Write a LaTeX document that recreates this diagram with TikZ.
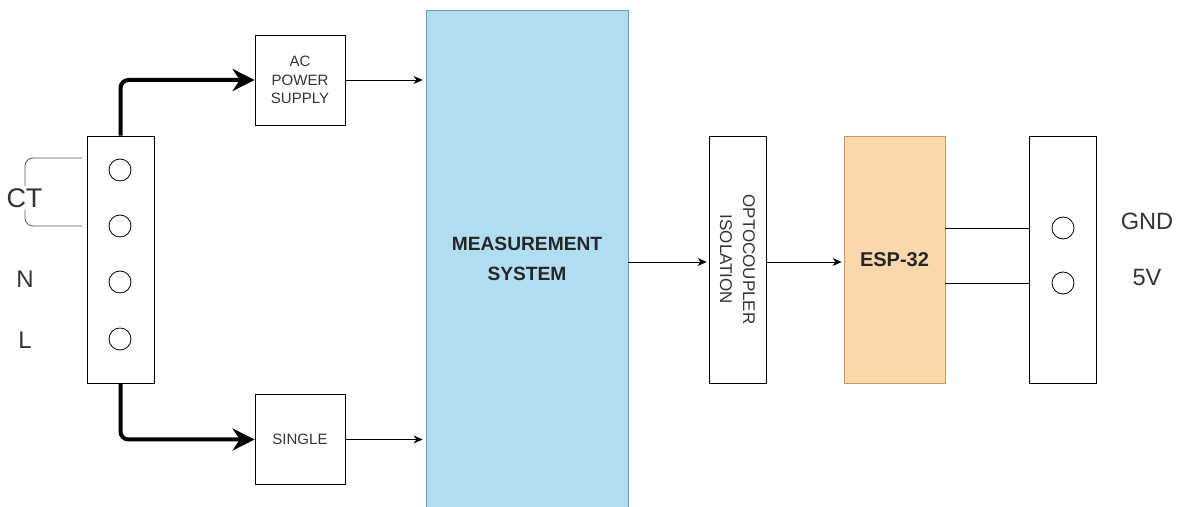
\documentclass[tikz,border=0pt]{standalone}
\usepackage{fontspec}
\setmainfont{Liberation Sans}
\usetikzlibrary{arrows.meta,positioning}

\definecolor{msfill}{HTML}{B1DDF0}
\definecolor{msline}{HTML}{6A9FBC}
\definecolor{espfill}{HTML}{FAD7AC}
\definecolor{espline}{HTML}{CC9A52}
\definecolor{txtgray}{HTML}{333333}

\tikzset{
  block/.style={draw, thin, minimum width=45pt, minimum height=45pt, inner sep=1pt,
    align=center, text=txtgray, font=\fontsize{7.5}{9.2}\selectfont},
  strip/.style={draw, thin, minimum width=33.5pt, minimum height=123.5pt, inner sep=0pt},
  hole/.style={draw, circle, minimum size=11pt, inner sep=0pt},
  sidetext/.style={text=txtgray, inner sep=1pt, font=\fontsize{12}{14}\selectfont},
  thinarrow/.style={thin, -{Stealth[length=4.5pt,width=4pt]}},
  fatarrow/.style={line width=2pt, rounded corners=4pt, -{Stealth[length=11pt,width=11pt]}},
}

\begin{document}
\begin{tikzpicture}[x=0.5pt,y=-0.5pt]

  \useasboundingbox (0,0) rectangle (1179,507);
  \clip (0,0) rectangle (1179,507);

  \node[strip] (term) at (120.5,259.5) {};
  \foreach \i/\y in {1/170,2/226,3/282,4/339}
    \node[hole] (t\i) at (120,\y) {};

  \coordinate (cta) at (82,158);
  \coordinate (ctb) at (82,226);
  \draw[txtgray!80, rounded corners=4pt] (cta) -- (25,158) -- (25,226) -- (ctb);
  \node[sidetext, fill=white, font=\fontsize{13.5}{15}\selectfont] (ct) at (24.5,198) {CT};
  \node[sidetext] (nlab) at (25,279) {N};
  \node[sidetext] (llab) at (25,340) {L};

  \node[block] (acps) at (300,80) {AC\\POWER\\SUPPLY};
  \node[block] (single) at (300,439.5) {SINGLE};

  \draw[fatarrow] (term.north) |- (acps.west);
  \draw[fatarrow] (term.south) |- (single.west);

  \node[draw=msline, fill=msfill, minimum width=101pt, minimum height=249pt,
    align=center, font=\bfseries\fontsize{9.6}{15}\selectfont, text=black!85] (meas) at (527,259)
    {MEASUREMENT\\SYSTEM};

  \draw[thinarrow] (acps.east) -- ([xshift=-1.5pt]acps.east -| meas.west);
  \draw[thinarrow] (single.east) -- ([xshift=-1.5pt]single.east -| meas.west);

  \node[strip, minimum width=28.5pt] (opto) at (737.5,259.5) {};
  \node[rotate=-90, align=center, text=txtgray, font=\fontsize{8.5}{11.5}\selectfont] (optotext)
    at (opto) {OPTOCOUPLER\\ISOLATION};

  \node[strip, minimum width=50.5pt, draw=espline, fill=espfill,
    font=\bfseries\fontsize{10}{12}\selectfont, text=black!85] (esp) at (894.5,259.5) {ESP-32};

  \node[strip] (supply) at (1062.5,259.5) {};
  \node[hole] (s1) at (1063,228) {};
  \node[hole] (s2) at (1063,283) {};
  \node[sidetext, font=\fontsize{11.8}{14}\selectfont] (gnd) at (1147,221) {GND};
  \node[sidetext, font=\fontsize{11.8}{14}\selectfont] (fivev) at (1147,278) {5V};

  \draw[thinarrow] (meas.east |- 0,262) -- ([xshift=-1pt]opto.west |- 0,262);
  \draw[thinarrow] (opto.east |- 0,262) -- ([xshift=-1pt]esp.west |- 0,262);
  \draw (esp.east |- s1) -- (supply.west |- s1);
  \draw (esp.east |- s2) -- (supply.west |- s2);

\end{tikzpicture}
\end{document}
